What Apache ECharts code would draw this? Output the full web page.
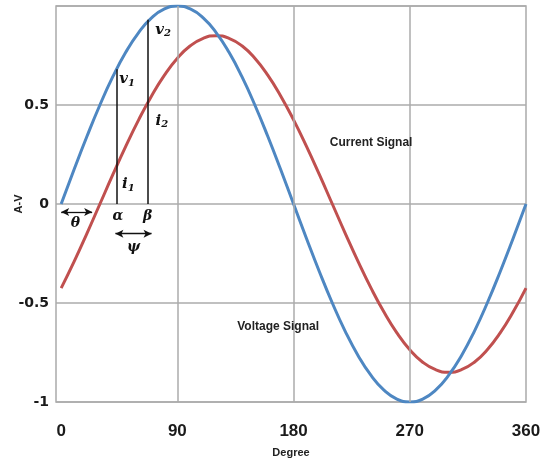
<!DOCTYPE html>
<html><head><meta charset="utf-8">
<script src="https://cdn.jsdelivr.net/npm/echarts@6/dist/echarts.min.js"></script>
<style>html,body{margin:0;padding:0;background:#fff}#c{width:544px;height:464px}</style>
</head><body><div id="c"></div>
<script>
const degrees = [0,10,20,30,40,50,60,70,80,90,100,110,120,130,140,150,160,170,180,190,200,210,220,230,240,250,260,270,280,290,300,310,320,330,340,350,360];
const voltage = [0,0.174,0.342,0.5,0.643,0.766,0.866,0.94,0.985,1,0.985,0.94,0.866,0.766,0.643,0.5,0.342,0.174,0,-0.174,-0.342,-0.5,-0.643,-0.766,-0.866,-0.94,-0.985,-1,-0.985,-0.94,-0.866,-0.766,-0.643,-0.5,-0.342,-0.174,0];
const current = [-0.425,-0.291,-0.148,0,0.148,0.291,0.425,0.546,0.651,0.736,0.799,0.837,0.85,0.837,0.799,0.736,0.651,0.546,0.425,0.291,0.148,0,-0.148,-0.291,-0.425,-0.546,-0.651,-0.736,-0.799,-0.837,-0.85,-0.837,-0.799,-0.736,-0.651,-0.546,-0.425];
const xTicks = [0,90,180,270,360];
const yTicks = [-1,-0.5,0,0.5];
const gridX = [90,180,270];
// annotation positions (data coords)
const alphaX = 43, betaX = 67;
const v1 = 0.68, v2 = 0.93;

const gray = '#ababab';
const serifLbl = {fontFamily:'DejaVu Serif', fontStyle:'italic', fontWeight:'bold', fontSize:15, color:'#111'};

function pt(x, y, txt){
  return {coord:[x,y], label:{formatter:txt}};
}

const chart = echarts.init(document.getElementById('c'));
chart.setOption({
  animation:false,
  grid:{left:56,right:18,top:6,bottom:62,outerBoundsMode:'none',containLabel:false,show:true,borderColor:gray,borderWidth:1.5},
  xAxis:{type:'value',min:-4,max:360,
    name:'Degree',nameLocation:'middle',nameGap:45,
    nameTextStyle:{fontFamily:'Liberation Sans',fontWeight:'bold',fontSize:11,color:'#222'},
    axisLine:{show:false},axisTick:{show:false},splitLine:{show:false},
    axisLabel:{customValues:xTicks,margin:21,fontFamily:'Liberation Sans',fontWeight:'bold',fontSize:17,color:'#1a1a1a'}},
  yAxis:{type:'value',min:-1,max:1,interval:0.5,
    name:'A-V',nameLocation:'middle',nameGap:32,nameMoveOverlap:false,
    nameTextStyle:{fontFamily:'Liberation Sans',fontWeight:'bold',fontSize:11,color:'#222'},
    axisLine:{show:false},axisTick:{show:false},
    splitLine:{lineStyle:{color:gray,width:1.5}},
    axisLabel:{margin:7,fontFamily:'DejaVu Sans',fontWeight:'bold',fontSize:14,color:'#1a1a1a',
      formatter:v=> yTicks.indexOf(v)>=0 ? String(v) : ''}},
  series:[
    {type:'line',name:'grid',data:[],silent:true,
      markLine:{silent:true,symbol:'none',label:{show:false},lineStyle:{color:gray,width:1.5,type:'solid'},
        data:gridX.map(v=>({xAxis:v}))}},
    {type:'line',name:'Current',smooth:true,symbol:'none',z:3,
      data:degrees.map((d,i)=>[d,current[i]]),
      lineStyle:{color:'#c0504f',width:3}},
    {type:'line',name:'Voltage',smooth:true,symbol:'none',z:4,
      data:degrees.map((d,i)=>[d,voltage[i]]),
      lineStyle:{color:'#4e87c2',width:3},
      markLine:{silent:true,symbol:'none',label:{show:false},lineStyle:{color:'#111',width:1.5,type:'solid'},
        data:[
          [{coord:[alphaX,0]},{coord:[alphaX,v1]}],
          [{coord:[betaX,0]},{coord:[betaX,v2]}]
        ]},
      markPoint:{silent:true,symbol:'circle',symbolSize:1,itemStyle:{color:'rgba(0,0,0,0)'},
        label:{show:true,position:'inside',
          rich:{m:serifLbl,s:Object.assign({},serifLbl,{fontSize:10,padding:[8,0,0,0]}),
                g:Object.assign({},serifLbl,{fontSize:14})}},
        data:[
          pt(51,0.63,'{m|v}{s|1}'),
          pt(79,0.88,'{m|v}{s|2}'),
          pt(52,0.10,'{m|i}{s|1}'),
          pt(78,0.42,'{m|i}{s|2}'),
          pt(44,-0.06,'{g|α}'),
          pt(67,-0.06,'{g|β}'),
          pt(11,-0.10,'{g|θ}'),
          pt(56,-0.22,'{g|ψ}')
        ]}},
    {type:'line',name:'arrows',data:[],silent:true,
      markLine:{silent:true,symbol:['arrow','arrow'],symbolSize:[6,8],label:{show:false},
        lineStyle:{color:'#111',width:1.3,type:'solid'},
        data:[
          [{coord:[0,-0.04]},{coord:[24,-0.04]}],
          [{coord:[42,-0.15]},{coord:[70,-0.15]}]
        ]},
      markPoint:{silent:true,symbol:'circle',symbolSize:1,itemStyle:{color:'rgba(0,0,0,0)'},
        label:{show:true,position:'inside',fontFamily:'Liberation Sans',fontWeight:'bold',fontSize:12,color:'#222'},
        data:[
          {coord:[240,0.31],label:{formatter:'Current Signal'}},
          {coord:[168,-0.62],label:{formatter:'Voltage Signal'}}
        ]}}
  ]
});
</script></body></html>
